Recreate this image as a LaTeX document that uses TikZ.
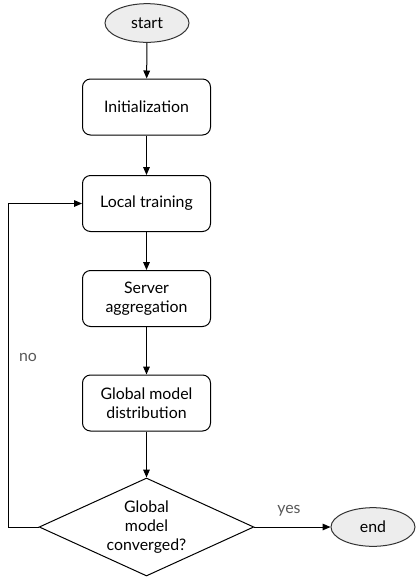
\documentclass[tikz,border=0pt]{standalone}
\usepackage{fontspec}
\setmainfont{Lato}
\usetikzlibrary{shapes.geometric,arrows.meta}

\tikzset{
  stepbox/.style={draw,rounded corners=6pt,minimum width=96pt,minimum height=42pt,align=center,inner sep=0.75pt},
  terminal/.style={draw=black!80,ellipse,fill=black!7,minimum width=63pt,minimum height=29pt,inner sep=0.75pt},
  decision/.style={draw,diamond,aspect=2.2,minimum width=161pt,minimum height=73.5pt,align=center,inner sep=0pt},
  flow/.style={-{Triangle[length=6pt,width=5pt]}},
  edgelabel/.style={text=black!65,inner sep=0.75pt}
}

\begin{document}
\begin{tikzpicture}[x=0.75pt,y=0.75pt,yscale=-1,xscale=1,line width=0.75pt,font=\fontsize{11.9}{14}\selectfont]
\useasboundingbox (0,0) rectangle (420,583);

% Terminals
\node [terminal] (start) at (147,23) {start};
\node [terminal] (end) at (373,527) {end};

% Process steps
\node [stepbox] (init) at (146.5,107) {Initialization};
\node [stepbox] (local) at (146.5,203.5) {Local training};
\node [stepbox] (server) at (146.5,298.5) {Server\\aggregation};
\node [stepbox] (global) at (146.5,403) {Global model\\distribution};

% Decision
\node [decision] (conv) at (146.5,527) {Global\\model\\converged?};

% Loop corners
\coordinate (lowleft) at (8,527);
\coordinate (upleft) at (8,203.5);

% Connectors
\draw [flow] (start) -- (init);
\draw [flow] (init) -- (local);
\draw [flow] (local) -- (server);
\draw [flow] (server) -- (global);
\draw [flow] (global) -- (conv);
\draw [flow] (conv) -- (end);
\draw [flow] (conv.west) -- (lowleft) -- (upleft) -- (local.west);

% Labels
\node [edgelabel] (yeslabel) at (289,511) {yes};
\node [edgelabel] (nolabel) at (28,357) {no};

\end{tikzpicture}
\end{document}
